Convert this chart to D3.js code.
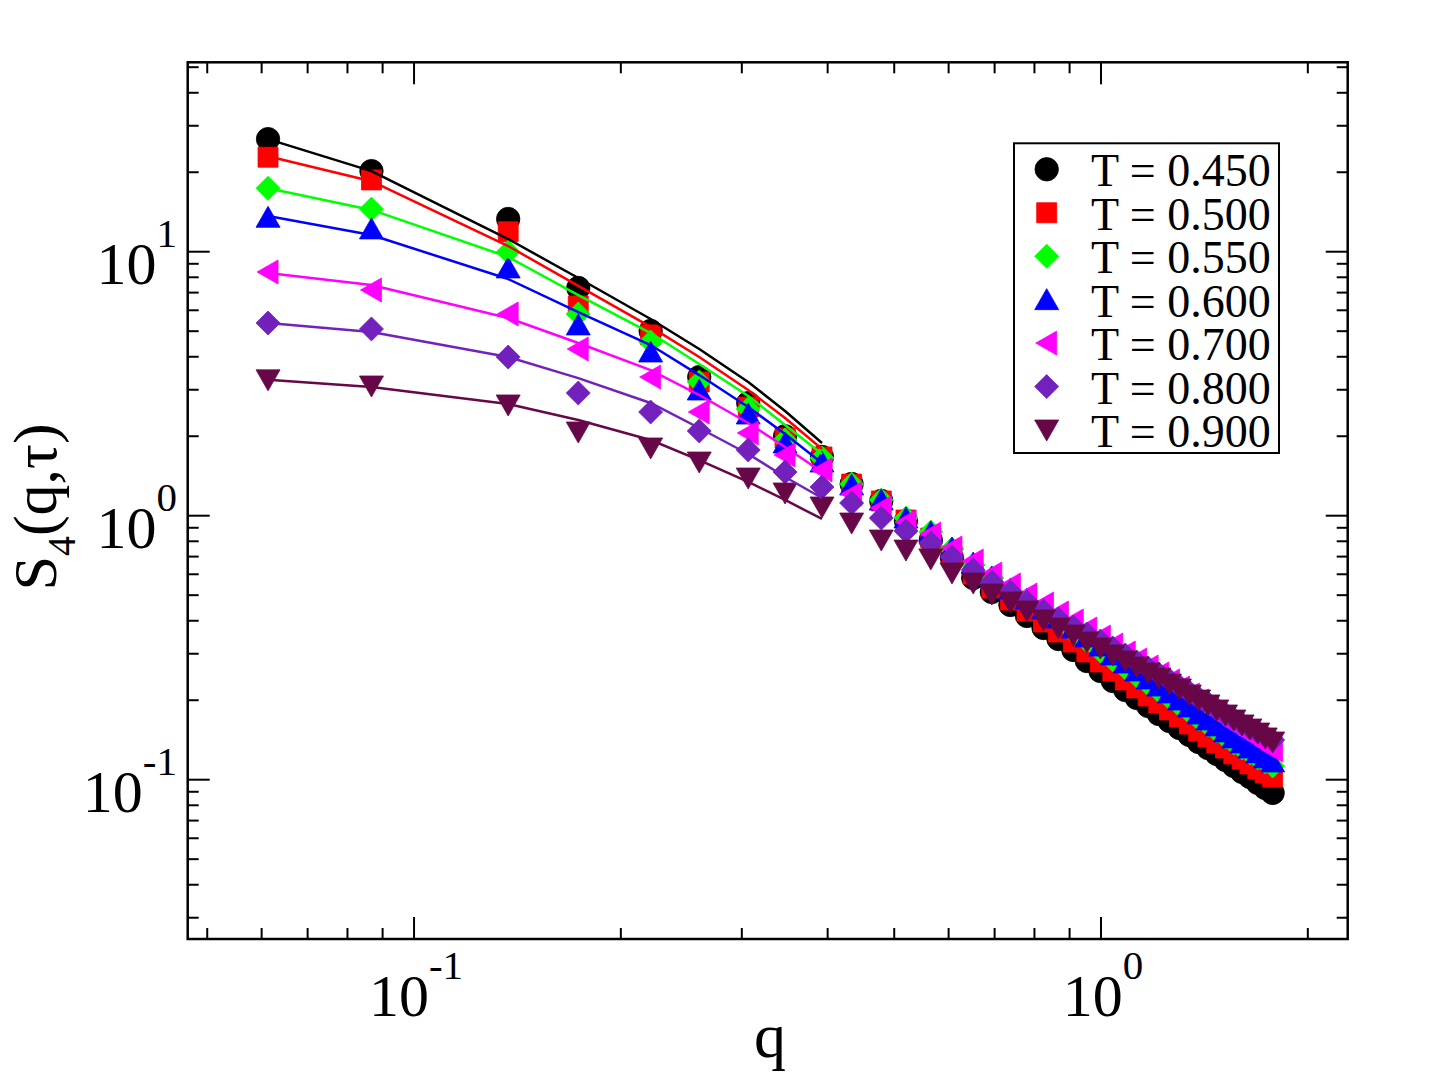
<!DOCTYPE html>
<html><head><meta charset="utf-8">
<script src="https://cdn.jsdelivr.net/npm/d3@7"></script>
<style>body{margin:0;background:#fff} svg{display:block} text{font-family:"Liberation Serif","Times New Roman",serif;fill:#000}</style>
</head><body><svg id="c" width="1430" height="1092"></svg>
<script>
// ---- data ----
const qValues = [0.0613, 0.0867, 0.1371, 0.1734, 0.2210, 0.2601, 0.3065, 0.3468, 0.3925, 0.4335,
  0.4788, 0.5201, 0.5652, 0.6068, 0.6516, 0.6935, 0.7381, 0.7802, 0.8247, 0.8669,
  0.9113, 0.9536, 0.9979, 1.0403, 1.0845, 1.1270, 1.1711, 1.2137, 1.2578, 1.3004,
  1.3444, 1.3871, 1.4311, 1.4738, 1.5177, 1.5605, 1.6044, 1.6471, 1.6911, 1.7338, 1.7777];
const temperatures = ["0.450", "0.500", "0.550", "0.600", "0.700", "0.800", "0.900"];
const S_T0450 = [26.7, 20.2, 13.3, 7.29, 5.01, 3.35, 2.67, 2.00, 1.669, 1.318, 1.137, 0.955, 0.809, 0.691, 0.581, 0.514, 0.459, 0.417, 0.3755, 0.341, 0.310, 0.2816, 0.258, 0.2365, 0.2187, 0.2040, 0.1902, 0.1773, 0.1668, 0.1570, 0.1477, 0.1389, 0.1318, 0.1252, 0.1187, 0.1127, 0.1070, 0.1024, 0.0972, 0.0930, 0.0891];
const S_T0500 = [22.8, 18.7, 11.9, 6.23, 4.84, 3.21, 2.58, 1.969, 1.669, 1.318, 1.137, 0.963, 0.823, 0.704, 0.601, 0.532, 0.479, 0.4355, 0.3958, 0.3626, 0.3323, 0.3046, 0.2792, 0.258, 0.2386, 0.2225, 0.2075, 0.1952, 0.1837, 0.1728, 0.1626, 0.1529, 0.1451, 0.1377, 0.1318, 0.1252, 0.1198, 0.1147, 0.1098, 0.1060, 0.1024];
const S_T0550 = [17.4, 14.5, 9.97, 5.81, 4.55, 3.21, 2.536, 1.935, 1.654, 1.318, 1.147, 0.980, 0.868, 0.748, 0.650, 0.581, 0.5186, 0.471, 0.4316, 0.3958, 0.3626, 0.3352, 0.3073, 0.2841, 0.2649, 0.2470, 0.2304, 0.2168, 0.2040, 0.1919, 0.1805, 0.1698, 0.1612, 0.1529, 0.1451, 0.1377, 0.1318, 0.1263, 0.1209, 0.1167, 0.1127];
const S_T0600 = [13.5, 12.2, 8.68, 5.28, 4.17, 2.993, 2.428, 1.885, 1.597, 1.307, 1.147, 0.980, 0.868, 0.7545, 0.662, 0.586, 0.528, 0.4836, 0.4432, 0.4098, 0.3755, 0.3471, 0.3208, 0.2968, 0.2767, 0.258, 0.2406, 0.2264, 0.2130, 0.2003, 0.1885, 0.1773, 0.1683, 0.1598, 0.1516, 0.1439, 0.1377, 0.1318, 0.1263, 0.1209, 0.1167];
const S_T0700 = [8.38, 7.16, 5.81, 4.28, 3.35, 2.471, 2.057, 1.698, 1.490, 1.208, 1.070, 0.9465, 0.8525, 0.7545, 0.6737, 0.601, 0.5464, 0.5008, 0.4628, 0.4280, 0.3993, 0.3722, 0.3471, 0.3237, 0.3019, 0.2841, 0.2673, 0.2515, 0.2365, 0.2225, 0.2093, 0.1986, 0.1885, 0.1789, 0.1698, 0.1612, 0.1543, 0.1477, 0.1414, 0.1353, 0.1296];
const S_T0800 = [5.37, 5.10, 3.99, 2.916, 2.471, 2.094, 1.774, 1.464, 1.284, 1.117, 0.980, 0.875, 0.788, 0.698, 0.623, 0.561, 0.514, 0.471, 0.4355, 0.4063, 0.3788, 0.3563, 0.3352, 0.3154, 0.2968, 0.2792, 0.2649, 0.2515, 0.2386, 0.2264, 0.2149, 0.2040, 0.1952, 0.1853, 0.1773, 0.1698, 0.1626, 0.1570, 0.1516, 0.1464, 0.1414];
const S_T0900 = [3.27, 3.10, 2.627, 2.075, 1.805, 1.597, 1.389, 1.219, 1.079, 0.938, 0.809, 0.741, 0.686, 0.607, 0.556, 0.505, 0.471, 0.4355, 0.4027, 0.3755, 0.3532, 0.3323, 0.3154, 0.2968, 0.2816, 0.2673, 0.2537, 0.2428, 0.2304, 0.2206, 0.2093, 0.2003, 0.1919, 0.1837, 0.1758, 0.1683, 0.1612, 0.1556, 0.1502, 0.1439, 0.1389];
// fit curves, evaluated at the first nine q values
const fitQ = qValues.slice(0, 9);
const F_T0450 = [26.7, 20.2, 11.17, 7.95, 5.56, 4.28, 3.21, 2.493, 1.885];
const F_T0500 = [23.0, 18.5, 10.51, 7.42, 5.19, 3.99, 2.993, 2.345, 1.789];
const F_T0550 = [17.4, 14.4, 9.55, 6.85, 4.92, 3.754, 2.841, 2.206, 1.713];
const F_T0600 = [13.65, 11.57, 7.88, 5.91, 4.43, 3.41, 2.58, 2.039, 1.583];
const F_T0700 = [8.31, 7.48, 5.61, 4.51, 3.56, 2.866, 2.244, 1.820, 1.464];
const F_T0800 = [5.37, 4.96, 3.99, 3.32, 2.673, 2.149, 1.713, 1.402, 1.167];
const F_T0900 = [3.27, 3.07, 2.649, 2.304, 1.935, 1.625, 1.342, 1.147, 0.972];
const xMajorTicks = [0.1, 1];
const xMinorTicks = [0.05, 0.06, 0.07, 0.08, 0.09, 0.2, 0.3, 0.4, 0.5, 0.6, 0.7, 0.8, 0.9, 2];
const yMajorTicks = [0.1, 1, 10];
const yMinorTicks = [0.03, 0.04, 0.05, 0.06, 0.07, 0.08, 0.09, 0.2, 0.3, 0.4, 0.5, 0.6, 0.7, 0.8, 0.9, 2, 3, 4, 5, 6, 7, 8, 9, 20, 30, 40, 50];

// ---- build ----
const seriesData = [S_T0450, S_T0500, S_T0550, S_T0600, S_T0700, S_T0800, S_T0900];
const fitData = [F_T0450, F_T0500, F_T0550, F_T0600, F_T0700, F_T0800, F_T0900];
const colors = ["#000000", "#ff0000", "#00ff00", "#0000ff", "#ff00ff", "#7221bc", "#670748"];
const shapes = ["circle", "square", "diamond", "up", "left", "diamond", "down"];

const L = 187.7, R = 1347.7, T = 62.3, B = 939;
const x = d3.scaleLog().domain([0.04683, 2.286]).range([L, R]);
const y = d3.scaleLog().domain([0.02492, 52.18]).range([B, T]);

const svg = d3.select("#c");

function symbolPath(shape) {
  switch (shape) {
    case "circle": return "M11.7,0A11.7,11.7 0 1,1 -11.7,0A11.7,11.7 0 1,1 11.7,0Z";
    case "square": return "M-10,-10H10V10H-10Z";
    case "diamond": return "M0,-12L12,0L0,12L-12,0Z";
    case "up": return "M0,-11L12,10L-12,10Z";
    case "down": return "M0,11L12,-10L-12,-10Z";
    case "left": return "M-11,0L10,-12L10,12Z";
  }
}

// markers
seriesData.forEach((vals, i) => {
  svg.append("g").selectAll("path").data(vals.map((v, k) => [qValues[k], v]))
    .join("path")
    .attr("d", symbolPath(shapes[i]))
    .attr("transform", d => `translate(${x(d[0])},${y(d[1])})`)
    .attr("fill", colors[i]).attr("stroke", colors[i]).attr("stroke-width", 0.8);
});

// fit lines
const line = d3.line().x(d => x(d[0])).y(d => y(d[1]));
fitData.forEach((vals, i) => {
  svg.append("path").datum(vals.map((v, k) => [fitQ[k], v]))
    .attr("d", line).attr("fill", "none").attr("stroke", colors[i]).attr("stroke-width", 2.5)
    .attr("stroke-linejoin", "round");
});

// frame and ticks
const ax = svg.append("g").attr("stroke", "#000").attr("stroke-width", 2);
xMajorTicks.concat(xMinorTicks).forEach(v => {
  const len = xMajorTicks.includes(v) ? 22 : 11;
  ax.append("line").attr("x1", x(v)).attr("x2", x(v)).attr("y1", B).attr("y2", B - len);
  ax.append("line").attr("x1", x(v)).attr("x2", x(v)).attr("y1", T).attr("y2", T + len);
});
yMajorTicks.concat(yMinorTicks).forEach(v => {
  const len = yMajorTicks.includes(v) ? 22 : 11;
  ax.append("line").attr("y1", y(v)).attr("y2", y(v)).attr("x1", L).attr("x2", L + len);
  ax.append("line").attr("y1", y(v)).attr("y2", y(v)).attr("x1", R).attr("x2", R - len);
});
svg.append("rect").attr("x", L).attr("y", T).attr("width", R - L).attr("height", B - T)
  .attr("fill", "none").attr("stroke", "#000").attr("stroke-width", 2.5);

function powLabel(px, py, anchor, v) {
  const e = Math.round(Math.log10(v));
  const t = svg.append("text").attr("x", px).attr("y", py).attr("text-anchor", anchor).style("font-size", "60px");
  t.append("tspan").text("10");
  t.append("tspan").attr("dy", -37).style("font-size", "41px").text(e < 0 ? "-" + (-e) : String(e));
}
xMajorTicks.forEach(v => powLabel(x(v) + 2, 1016, "middle", v));
yMajorTicks.forEach(v => powLabel(177, y(v) + 32, "end", v));

// axis titles
svg.append("text").attr("x", 770).attr("y", 1057).attr("text-anchor", "middle").style("font-size", "64px").text("q");
const yt = svg.append("text").attr("transform", "translate(56,507) rotate(-90)").attr("text-anchor", "middle").style("font-size", "62px");
yt.append("tspan").text("S");
yt.append("tspan").attr("dy", 19).style("font-size", "40px").text("4");
yt.append("tspan").attr("dy", -19).text("(q,\u03C4)");

// legend
const lg = svg.append("g");
lg.append("rect").attr("x", 1014).attr("y", 143.3).attr("width", 265).attr("height", 309.7)
  .attr("fill", "#fff").attr("stroke", "#000").attr("stroke-width", 2);
temperatures.forEach((tt, i) => {
  const cy = 169.3 + i * 43.45;
  lg.append("path").attr("d", symbolPath(shapes[i])).attr("transform", `translate(1046.7,${cy})`)
    .attr("fill", colors[i]).attr("stroke", colors[i]).attr("stroke-width", 0.8);
  lg.append("text").attr("x", 1091).attr("y", cy + 17).style("font-size", "46px").text("T = " + tt);
});
</script></body></html>
